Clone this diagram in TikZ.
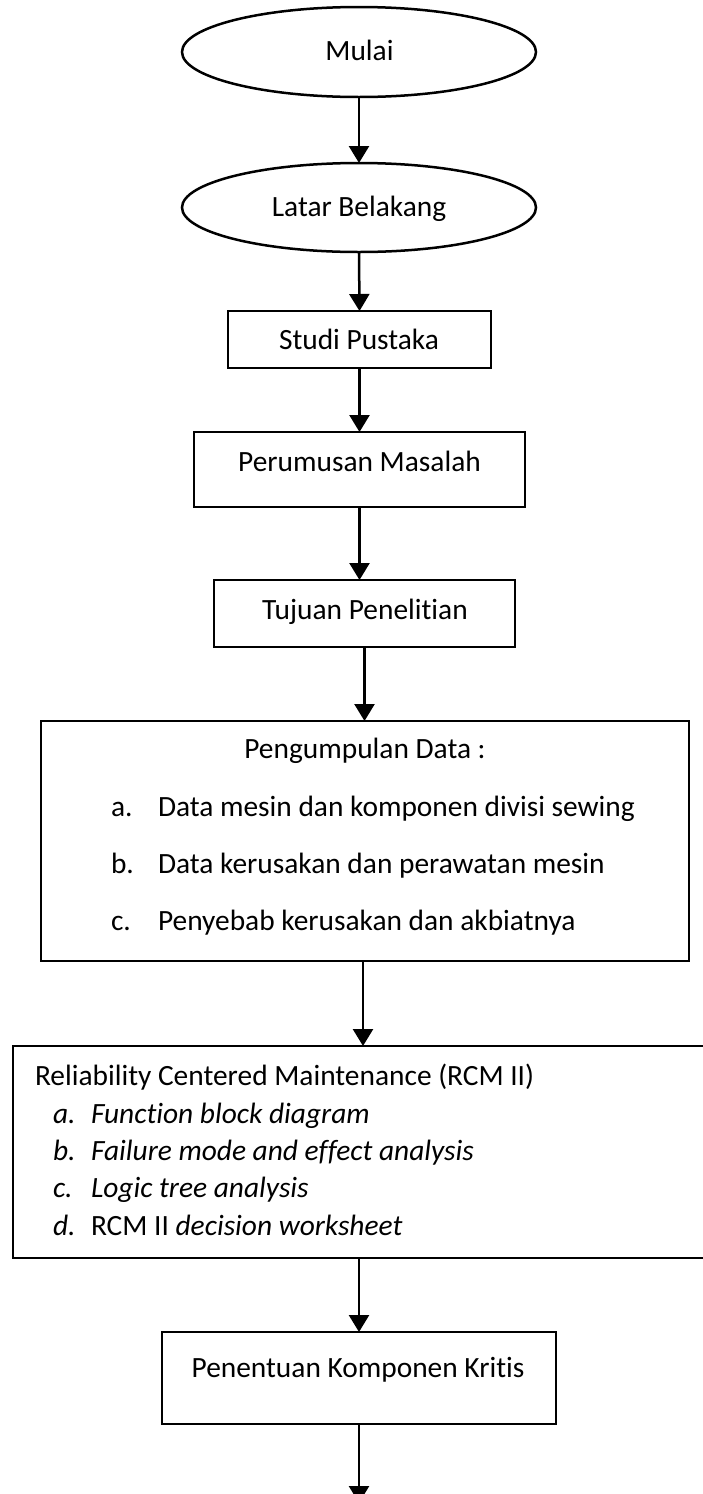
\documentclass[tikz,border=0pt]{standalone}
\usepackage{fontspec}
\setmainfont[Ligatures=CommonOff]{Carlito}
\usetikzlibrary{shapes.geometric,arrows.meta}

\begin{document}
\begin{tikzpicture}[x=1pt,y=-1pt,
  every node/.style={inner sep=0pt, outer sep=0pt},
  txt/.style={anchor=base, font=\fontsize{29.4}{35}\selectfont},
  ltxt/.style={anchor=base west, font=\fontsize{29.4}{35}\selectfont},
  oval/.style={ellipse, draw, line width=2.5pt},
  box/.style={rectangle, draw, line width=2.6pt},
  arr/.style={line width=2.5pt, -{Triangle[width=20pt,length=17pt]}}]

\useasboundingbox (0,0) rectangle (703,1494);

% shapes of the flow
\node[oval, minimum width=354pt, minimum height=90pt] (mulai) at (359,52) {};
\node[oval, minimum width=354pt, minimum height=89pt] (latar) at (359,207.5) {};
\node[box, minimum width=263pt, minimum height=57pt] (studi) at (359.5,339.5) {};
\node[box, minimum width=331pt, minimum height=75pt] (rumus) at (359.5,469.5) {};
\node[box, minimum width=301pt, minimum height=67pt] (tujuan) at (364.5,613.5) {};
\node[box, minimum width=648pt, minimum height=240pt] (kumpul) at (365,841) {};
\node[box, minimum width=707pt, minimum height=212pt] (rcm) at (366.5,1152) {};
\node[box, minimum width=394pt, minimum height=92pt] (kritis) at (359,1378) {};
\coordinate (lanjut) at (359,1503);

% texts
\node[txt] (tmulai) at (359.5,60) {Mulai};
\node[txt] (tlatar) at (359,216) {Latar Belakang};
\node[txt] (tstudi) at (359,349) {Studi Pustaka};
\node[txt] (trumus) at (359.5,471) {Perumusan Masalah};
\node[txt] (ttujuan) at (365,619) {Tujuan Penelitian};

\node[txt] (tkumpul) at (365,758) {Pengumpulan Data :};
\node[ltxt] (ka) at (111,816) {a.};
\node[ltxt] (kat) at (158,816) {Data mesin dan komponen divisi sewing};
\node[ltxt] (kb) at (111,873) {b.};
\node[ltxt] (kbt) at (158,873) {Data kerusakan dan perawatan mesin};
\node[ltxt] (kc) at (111,930) {c.};
\node[ltxt] (kct) at (158,930) {Penyebab kerusakan dan akbiatnya};

\node[ltxt] (trcm) at (35,1085) {Reliability Centered Maintenance (RCM II)};
\node[ltxt] (ra) at (53,1123) {\itshape a.};
\node[ltxt] (rat) at (91,1123) {\itshape Function block diagram};
\node[ltxt] (rb) at (53,1160) {\itshape b.};
\node[ltxt] (rbt) at (91,1160) {\itshape Failure mode and effect analysis};
\node[ltxt] (rc) at (53,1197) {\itshape c.};
\node[ltxt] (rct) at (91,1197) {\itshape Logic tree analysis};
\node[ltxt] (rd) at (53,1235) {\itshape d.};
\node[ltxt] (rdt) at (91,1235) {RCM II \textit{decision worksheet}};

\node[txt] (tkritis) at (358,1377) {Penentuan Komponen Kritis};

% connectors
\draw[arr] (mulai.south) -- (latar.north);
\draw[arr] (latar.south) -- (studi.north);
\draw[arr] (studi.south) -- (rumus.north);
\draw[arr] (rumus.south) -- (rumus.south |- tujuan.north);
\draw[arr] (tujuan.south) -- (tujuan.south |- kumpul.north);
\draw[arr] ([xshift=-2pt]kumpul.south) -- ([xshift=-2pt]kumpul.south |- rcm.north);
\draw[arr] (kritis.north |- rcm.south) -- (kritis.north);
\draw[arr] (kritis.south) -- (lanjut);
\end{tikzpicture}
\end{document}
